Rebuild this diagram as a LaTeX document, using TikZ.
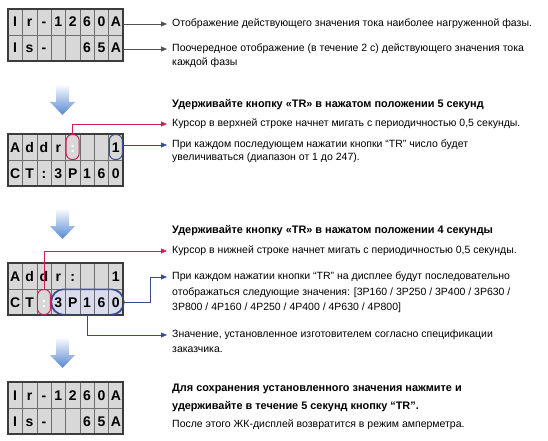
\documentclass[tikz,border=0pt]{standalone}
\usepackage{fontspec}
\setmainfont{Liberation Sans}
\usetikzlibrary{arrows.meta,positioning}
\definecolor{lcdgray}{RGB}{216,216,216}
\definecolor{lcdline}{RGB}{110,110,110}
\definecolor{lcdedge}{RGB}{60,60,60}
\definecolor{cursred}{RGB}{205,30,85}
\definecolor{linkblue}{RGB}{55,75,145}
\definecolor{linkgray}{RGB}{80,80,80}
\definecolor{capfill}{RGB}{218,220,238}
\definecolor{stepblue}{RGB}{85,135,210}
\newcommand{\blink}{\textcolor{white}{:}}
\tikzset{
  lcdcell/.style={draw=lcdline, minimum width=14.375pt, minimum height=26pt, inner sep=0pt,
    text height=10pt, text depth=0pt, font=\fontsize{14}{14}\selectfont\bfseries},
  lcdframe/.style={draw=lcdedge, line width=1.1pt},
  txt/.style={anchor=north west, inner sep=0pt, align=left, font=\fontsize{10.5}{14}\selectfont},
  hdr/.style={txt, font=\fontsize{10.9}{18}\selectfont\bfseries},
  lnk/.style={-{Triangle[length=6pt,width=5pt]}, shorten >=5pt},
  graylnk/.style={lnk, linkgray},
  redlnk/.style={lnk, cursred},
  bluelnk/.style={lnk, linkblue},
  redcap/.style={draw=cursred, line width=1pt, rounded corners=6pt, minimum width=13pt, minimum height=25pt, inner sep=0pt},
  bluecap/.style={draw=linkblue, fill=capfill, line width=1pt, inner sep=0pt},
}
\begin{document}
\begin{tikzpicture}[x=1pt,y=-1pt]
\useasboundingbox (0,0) rectangle (548,441);
%---- step arrows
\foreach \y in {84,208,337}
  \shade[top color=white, bottom color=stepblue] (56,\y) -- (69,\y) -- (69,\y+18)
    -- (75,\y+18) -- (62.5,\y+31) -- (50,\y+18) -- (56,\y+18) -- cycle;
%---- panel 1
\fill[lcdgray] (8,9) rectangle (123,61);
\foreach \ch [count=\i] in {I,r,-,1,2,6,0,A}
  \node[lcdcell] (L1-1-\i) at ({8+14.375*(\i-0.5)},22) {\ch};
\foreach \ch [count=\i] in {I,s,-,{},{},6,5,A}
  \node[lcdcell] (L1-2-\i) at ({8+14.375*(\i-0.5)},48) {\ch};
\draw[lcdframe] (8,9) rectangle (123,61);
%---- panel 2
\fill[lcdgray] (8,134) rectangle (123,186);
\foreach \ch [count=\i] in {A,d,d,r,\blink,{},{},1}
  \node[lcdcell] (L2-1-\i) at ({8+14.375*(\i-0.5)},147) {\ch};
\foreach \ch [count=\i] in {C,T,:,3,P,1,6,0}
  \node[lcdcell] (L2-2-\i) at ({8+14.375*(\i-0.5)},173) {\ch};
\draw[lcdframe] (8,134) rectangle (123,186);
\node[redcap] (cur2) at (L2-1-5) {};
\node[redcap, draw=linkblue] (sel2) at (L2-1-8) {};
%---- panel 3
\fill[lcdgray] (8,263) rectangle (123,315);
\node[bluecap, rounded corners=12.5pt, minimum width=72pt, minimum height=25pt] (sel3) at (87.5,302) {};
\foreach \ch [count=\i] in {A,d,d,r,:,{},{},1}
  \node[lcdcell] (L3-1-\i) at ({8+14.375*(\i-0.5)},276) {\ch};
\foreach \ch [count=\i] in {C,T,\blink,3,P,1,6,0}
  \node[lcdcell] (L3-2-\i) at ({8+14.375*(\i-0.5)},302) {\ch};
\draw[lcdframe] (8,263) rectangle (123,315);
\draw[linkblue, line width=1pt, rounded corners=12.5pt] (sel3.north west) rectangle (sel3.south east);
\node[redcap] (cur3) at (L3-2-3) {};
%---- panel 4
\fill[lcdgray] (8,382) rectangle (123,434);
\foreach \ch [count=\i] in {I,r,-,1,2,6,0,A}
  \node[lcdcell] (L4-1-\i) at ({8+14.375*(\i-0.5)},395) {\ch};
\foreach \ch [count=\i] in {I,s,-,{},{},6,5,A}
  \node[lcdcell] (L4-2-\i) at ({8+14.375*(\i-0.5)},421) {\ch};
\draw[lcdframe] (8,382) rectangle (123,434);
%---- texts
\node[txt] (t1) at (172,19) {Отображение действующего значения тока наиболее нагруженной фазы.};
\node[txt] (t2) at (172,44) {Поочередное отображение (в течение 2 с) действующего значения тока\\каждой фазы};
\node[hdr] (h1) at (172,99) {Удерживайте кнопку «TR» в нажатом положении 5 секунд};
\node[txt] (t3) at (172,119) {Курсор в верхней строке начнет мигать с периодичностью 0,5 секунды.};
\node[txt, font=\fontsize{10.5}{13}\selectfont] (t4) at (172,140) {При каждом последующем нажатии кнопки “TR” число будет\\увеличиваться (диапазон от 1 до 247).};
\node[hdr] (h2) at (172,225) {Удерживайте кнопку «TR» в нажатом положении 4 секунды};
\node[txt] (t5) at (172,246) {Курсор в нижней строке начнет мигать с периодичностью 0,5 секунды.};
\node[txt, font=\fontsize{10.5}{15.5}\selectfont] (t6) at (172,272) {При каждом нажатии кнопки “TR” на дисплее будут последовательно\\отображаться следующие значения: [3P160 / 3P250 / 3P400 / 3P630 /\\3P800 / 4P160 / 4P250 / 4P400 / 4P630 / 4P800]};
\node[txt, font=\fontsize{10.5}{15}\selectfont] (t7) at (172,330) {Значение, установленное изготовителем согласно спецификации\\заказчика.};
\node[hdr] (h3) at (172,384) {Для сохранения установленного значения нажмите и\\удерживайте в течение 5 секунд кнопку “TR”.};
\node[txt] (t8) at (172,420) {После этого ЖК-дисплей возвратится в режим амперметра.};
%---- connectors
\coordinate (in1) at ([yshift=-5pt]t1.north west);
\coordinate (in2) at ([yshift=-5pt]t2.north west);
\coordinate (in3) at ([yshift=-5pt]t3.north west);
\coordinate (in4) at ([yshift=-5pt]t4.north west);
\coordinate (in5) at ([yshift=-5pt]t5.north west);
\coordinate (in6) at ([yshift=-5pt]t6.north west);
\coordinate (in7) at ([yshift=-5pt]t7.north west);
\draw[graylnk] (L1-1-8.east |- in1) -- (in1);
\draw[graylnk] (L1-2-8.east |- in2) -- (in2);
\draw[redlnk] (cur2.north) |- (in3);
\draw[bluelnk] (sel2.east |- in4) -- (in4);
\draw[redlnk] (cur3.north) |- (in5);
\draw[bluelnk] (sel3.east) -- ++(26,0) |- (in6);
\draw[bluelnk] (sel3.south) |- (in7);
\end{tikzpicture}
\end{document}
